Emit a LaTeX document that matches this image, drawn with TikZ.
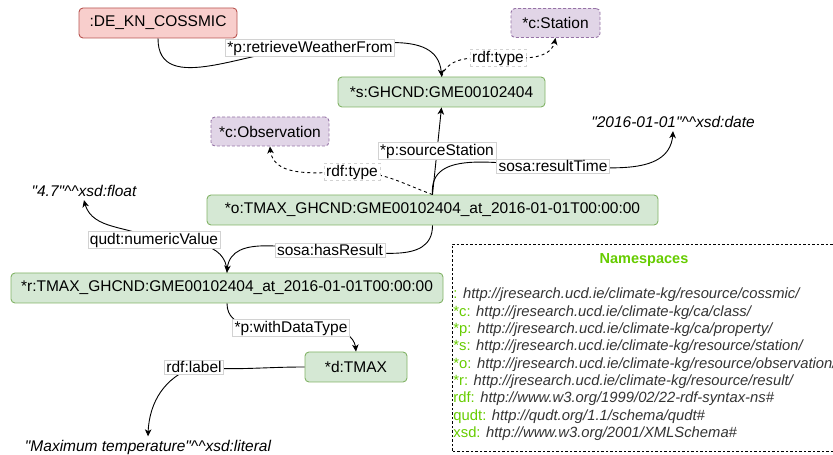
\documentclass[tikz,border=0pt]{standalone}
\usepackage{fontspec}
\setmainfont{Liberation Sans}
\usetikzlibrary{arrows.meta,bending}
\tikzset{>={Stealth[length=7pt,width=6.5pt,inset=2pt]}}

\definecolor{gfill}{HTML}{D5E8D4}
\definecolor{gdraw}{HTML}{82B366}
\definecolor{rfill}{HTML}{F8CECC}
\definecolor{rdraw}{HTML}{B85450}
\definecolor{cfill}{HTML}{E1D5E7}
\definecolor{cdraw}{HTML}{9673A6}
\definecolor{nsgreen}{HTML}{66CC00}
\definecolor{urlgray}{HTML}{333333}

\newcommand\hats{\textasciicircum\textasciicircum}
\newcommand\qq{\textquotedbl}

\begin{document}
\begin{tikzpicture}[x=1pt,y=1pt,font=\fontsize{15.5}{18}\selectfont,line width=0.9pt,
  gnode/.style={draw=gdraw,fill=gfill,rounded corners=4pt,minimum height=30pt,inner xsep=7pt},
  rnode/.style={draw=rdraw,fill=rfill,rounded corners=4pt,minimum height=30pt,inner xsep=7pt},
  cnode/.style={draw=cdraw,fill=cfill,rounded corners=4pt,minimum height=29pt,inner xsep=7pt,
    dash pattern=on 3pt off 2pt},
  lit/.style={font=\fontsize{15.5}{18}\selectfont\itshape,inner sep=3pt},
  lbl/.style={fill=white,draw=gray!35,line width=0.5pt,inner xsep=2pt,inner ysep=1.5pt},
  typeedge/.style={->,dash pattern=on 3pt off 3pt}]
\useasboundingbox (0,0) rectangle (833,455);

% resources and classes
\node[rnode,minimum width=158pt] (cossmic) at (158,432) {:DE\_KN\_COSSMIC};
\node[cnode,minimum width=89pt] (station) at (555.5,432) {*c:Station};
\node[gnode,minimum width=207pt] (ghcnd) at (441.5,363) {*s:GHCND:GME00102404};
\node[cnode,minimum width=118pt] (obsclass) at (270,323.5) {*c:Observation};
\node[gnode,minimum width=451pt] (obs) at (432.5,245) {*o:TMAX\_GHCND:GME00102404\_at\_2016-01-01T00:00:00};
\node[gnode,minimum width=432pt] (result) at (227,167) {*r:TMAX\_GHCND:GME00102404\_at\_2016-01-01T00:00:00};
\node[gnode,minimum width=102pt] (dtype) at (356,88) {*d:TMAX};

% literals
\node[lit] (float) at (84,264) {\qq4.7\qq\hats xsd:float};
\node[lit] (date) at (673,333) {\qq2016-01-01\qq\hats xsd:date};
\node[lit] (label) at (148,8) {\qq Maximum temperature\qq\hats xsd:literal};

% edges
\draw[->] (cossmic.south) to[out=-90,in=180] (310,407) node[lbl] (wfl) {*p:retrieveWeatherFrom}
  to[out=0,in=90] (ghcnd.north);
\draw[typeedge] (ghcnd.north) to[out=70,in=180] (498,397) node[lbl] (stt) {rdf:type}
  to[out=0,in=-95] (station.south);
\draw[->] (obs.north) -- node[lbl] (srcl) {*p:sourceStation} (ghcnd.south);
\draw[typeedge] (obs.north) to[out=160,in=0] (352,283) node[lbl] (obt) {rdf:type}
  to[out=180,in=-90] (obsclass.south);
\draw[->] (obs.north) to[out=95,in=180] (553,289) node[lbl] (rtl) {sosa:resultTime}
  to[out=0,in=-90] (date.south);
\draw[->] (obs.south) to[out=-90,in=0] (330,205) node[lbl] (hrl) {sosa:hasResult}
  to[out=180,in=90] (result.north);
\draw[->] (result.north) to[out=90,in=0] (154,215) node[lbl] (nvl) {qudt:numericValue}
  to[out=150,in=-80] (float.south);
\draw[->] (result.south) to[out=-90,in=180] (291,127) node[lbl] (wdl) {*p:withDataType}
  to[out=0,in=90] (dtype.north);
\draw[->] (dtype.west) to[out=180,in=-5] (194,88) node[lbl] (rll) {rdf:label}
  to[out=200,in=90] (label.north);

% namespaces
\draw[line width=0.7pt,dash pattern=on 2.5pt off 2pt] (452,4) rectangle (845,211);
\node[font=\fontsize{14.5}{17}\selectfont\bfseries,text=nsgreen] (nstitle) at (644,195) {Namespaces};
\foreach \pre/\url [count=\i] in {
  {:}/{http://jresearch.ucd.ie/climate-kg/resource/cossmic/},
  {*c:}/{http://jresearch.ucd.ie/climate-kg/ca/class/},
  {*p:}/{http://jresearch.ucd.ie/climate-kg/ca/property/},
  {*s:}/{http://jresearch.ucd.ie/climate-kg/resource/station/},
  {*o:}/{http://jresearch.ucd.ie/climate-kg/resource/observation/},
  {*r:}/{http://jresearch.ucd.ie/climate-kg/resource/result/},
  {rdf:}/{http://www.w3.org/1999/02/22-rdf-syntax-ns\#},
  {qudt:}/{http://qudt.org/1.1/schema/qudt\#},
  {xsd:}/{http://www.w3.org/2001/XMLSchema\#}}
  \node[anchor=west,inner sep=0pt,font=\fontsize{14.8}{17}\selectfont] (ns\i) at (453,{160-17.35*(\i-1)})
    {\textcolor{nsgreen}{\pre} \textcolor{urlgray}{\itshape\url}};
\end{tikzpicture}
\end{document}
